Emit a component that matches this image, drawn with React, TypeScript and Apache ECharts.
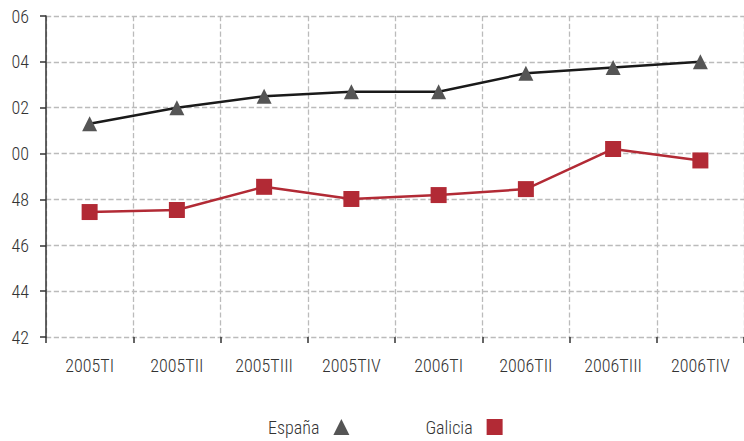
import React, { useEffect, useRef } from "react";
import * as echarts from "echarts";

const categories = ["2005TI", "2005TII", "2005TIII", "2005TIV", "2006TI", "2006TII", "2006TIII", "2006TIV"];
const espana = [51.3, 52.0, 52.5, 52.7, 52.7, 53.5, 53.75, 54.0];
const galicia = [47.45, 47.54, 48.55, 48.02, 48.19, 48.45, 50.2, 49.7];
const tickLabels: Record<number, string> = { 42: "42", 44: "44", 46: "46", 48: "48", 50: "00", 52: "02", 54: "04", 56: "06" };

const FONT = "'Roboto Condensed', 'Roboto', sans-serif";

export default function App() {
  const ref = useRef<HTMLDivElement>(null);
  useEffect(() => {
    if (!ref.current) return;
    const chart = echarts.init(ref.current, null, { renderer: "svg" });
    chart.setOption({
      animation: false,
      textStyle: { fontFamily: FONT },
      grid: { left: 46, top: 16, width: 702, height: 321, containLabel: false },
      legend: {
        top: 413,
        left: 263,
        align: "right",
        itemGap: 76,
        itemWidth: 16,
        itemHeight: 16,
        textStyle: { fontSize: 18, fontWeight: 300, color: "#333", fontFamily: FONT, padding: [0, 9, 0, 0] },
        data: [
          { name: "España", icon: "triangle" },
          { name: "Galicia", icon: "rect" },
        ],
      },
      xAxis: {
        type: "category",
        data: categories,
        boundaryGap: true,
        axisLine: { show: false },
        axisTick: { show: true, length: 6, lineStyle: { color: "#333", width: 1.5 } },
        axisLabel: { fontSize: 18, fontWeight: 300, color: "#333", margin: 19, fontFamily: FONT },
        splitLine: { show: true, lineStyle: { type: "dashed", color: "#bbb", width: 1.3 } },
      },
      yAxis: {
        type: "value",
        min: 42,
        max: 56,
        interval: 2,
        axisLine: { show: true, lineStyle: { color: "#333", width: 1.5 } },
        axisTick: { show: true, length: 6, lineStyle: { color: "#333", width: 1.5 } },
        axisLabel: {
          fontSize: 18,
          fontWeight: 300,
          color: "#333",
          margin: 17,
          fontFamily: FONT,
          formatter: (v: number) => tickLabels[Math.round(v)] ?? "",
        },
        splitLine: { show: true, lineStyle: { type: "dashed", color: "#bbb", width: 1.3 } },
      },
      series: [
        {
          name: "España",
          type: "line",
          data: espana,
          symbol: "triangle",
          symbolSize: 15,
          lineStyle: { color: "#1a1a1a", width: 2.5 },
          itemStyle: { color: "#555555" },
        },
        {
          name: "Galicia",
          type: "line",
          data: galicia,
          symbol: "rect",
          symbolSize: 16,
          lineStyle: { color: "#b22a35", width: 2.5 },
          itemStyle: { color: "#b22a35" },
        },
      ],
    });
    return () => chart.dispose();
  }, []);
  return <div ref={ref} style={{ width: 744, height: 441, position: "absolute", left: 0, top: 0 }} />;
}
